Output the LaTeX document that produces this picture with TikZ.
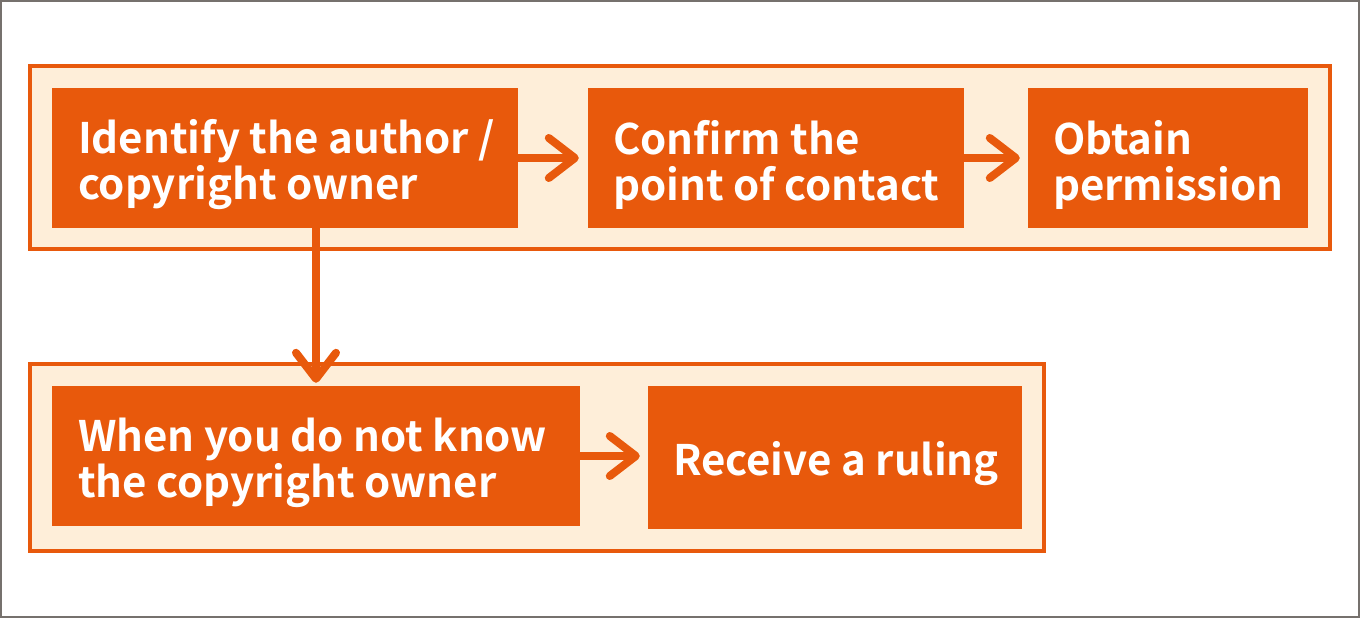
\documentclass[tikz,border=0pt]{standalone}
\usepackage{fontspec}
\setmainfont{Noto Sans CJK JP}[BoldFont={* Bold}]
\usetikzlibrary{arrows.meta}
\definecolor{org}{HTML}{E8590C}
\definecolor{crm}{HTML}{FEEED9}
\definecolor{frm}{HTML}{76716D}
\tikzset{
  container/.style={draw=org, fill=crm, line width=4pt},
  box/.style={fill=org, draw=none, inner sep=0pt},
  lbl/.style={anchor=west, align=left, text=white, inner sep=0pt, font=\bfseries\fontsize{42}{46}\selectfont},
  flow/.style={draw=org, line width=8pt, -{Straight Barb[length=26pt,width=40pt,round]}}
}
\begin{document}
\begin{tikzpicture}[x=1pt,y=-1pt]
\useasboundingbox (0,0) rectangle (1360,618);
\draw[frm, line width=2pt] (1,1) rectangle (1359,617);
\draw[container] (30,66) rectangle (1330,249);
\draw[container] (30,364) rectangle (1044,551);
\node[box, minimum width=466pt, minimum height=140pt] (b1) at (285,158) {};
\node[box, minimum width=376pt, minimum height=140pt] (b2) at (776,158) {};
\node[box, minimum width=280pt, minimum height=140pt] (b3) at (1168,158) {};
\node[box, minimum width=528pt, minimum height=140pt] (b4) at (316,456) {};
\node[box, minimum width=374pt, minimum height=143pt] (b5) at (835,457.5) {};
\node[lbl] (t1) at ([xshift=26pt,yshift=-7pt]b1.west) {Identify the author /\\copyright owner};
\node[lbl] (t2) at ([xshift=25pt,yshift=-7pt]b2.west) {Confirm the\\point of contact};
\node[lbl] (t3) at ([xshift=25pt,yshift=-7pt]b3.west) {Obtain\\permission};
\node[lbl] (t4) at ([xshift=26pt,yshift=-7pt]b4.west) {When you do not know\\the copyright owner};
\node[lbl, anchor=base] (t5) at (836,475) {Receive a ruling};
\draw[flow, shorten >=9pt] (b1.east) -- (b2.west);
\draw[flow, shorten >=8pt] (b2.east) -- (b3.west);
\draw[flow, shorten >=8pt] (b4.east) -- (b5.west |- b4.east);
\draw[flow, shorten >=3pt] (b4.north |- b1.south) -- (b4.north);
\end{tikzpicture}
\end{document}
